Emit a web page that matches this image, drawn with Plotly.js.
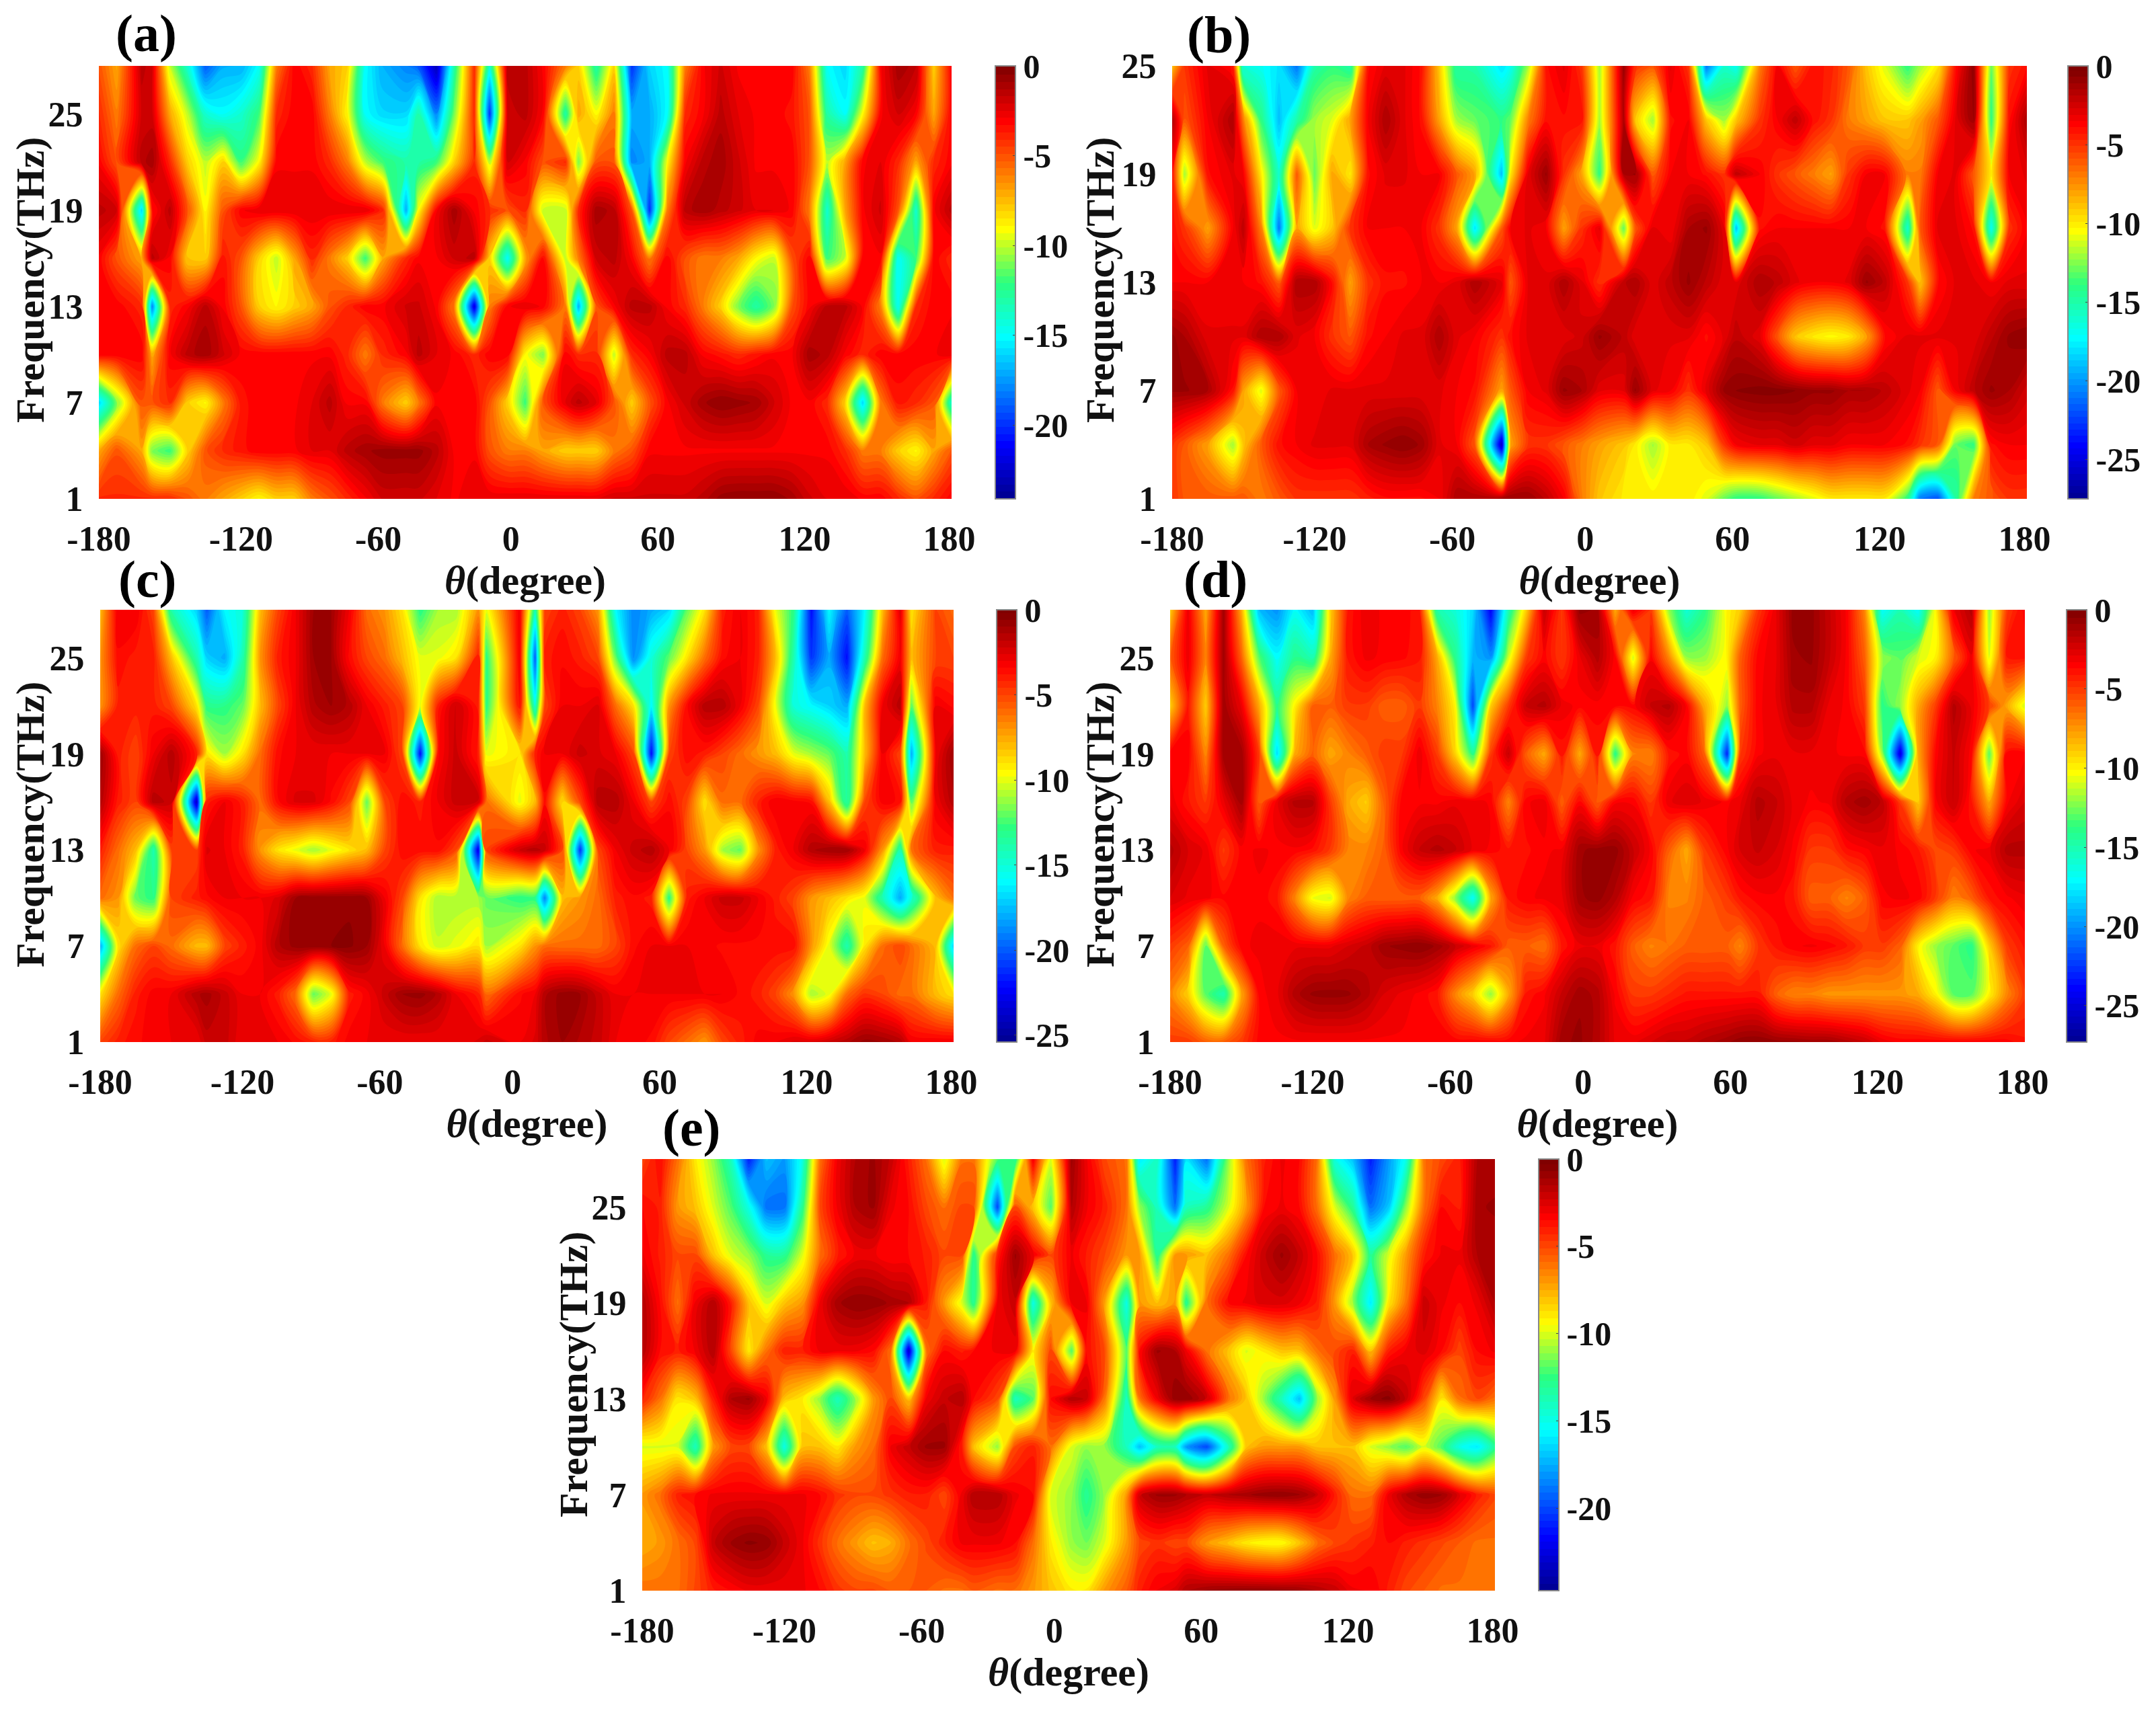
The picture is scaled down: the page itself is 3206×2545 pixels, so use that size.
<!DOCTYPE html>
<html>
<head>
<meta charset="utf-8">
<script src="https://cdn.plot.ly/plotly-3.0.1.min.js"></script>
<style>html,body{margin:0;padding:0;background:#fff}</style>
</head>
<body>
<div id="plot" style="width:3206px;height:2545px"></div>
<script>
var thetaA = [-180,-172.5,-161.9,-157.5,-150,-142.5,-135,-127.5,-120,-112.5,-105,-97.5,-90,-82.5,-75,-67.5,-60,-50.3,-45,-37.5,-30,-21.5,-15,-7.5,0,7.5,17,22.5,30,37.5,45,52.5,60,67.5,75,82.5,90,97.5,105,112.5,120,127.5,135,142.5,150,157.5,165,172.5,180];
var thetaB = [-180,-174.8,-165,-154.4,-150,-142.5,-135,-127.5,-120,-112.5,-105,-97.5,-90,-82.5,-75,-67.5,-60,-52.5,-41.2,-37.5,-30,-22.5,-15,-7.5,0,10.2,15,22.5,30,37.5,45,52.5,57.5,67.5,75,82.5,90,97.5,105,112.5,120,129.8,135,142.5,150,157.5,165,172.5,180];
var thetaC = [-180,-172.5,-165,-157.5,-150,-139.3,-135,-127.5,-120,-112.5,-105,-97.5,-90,-82.5,-75,-67.5,-60,-52.5,-45,-37.5,-30,-20.5,-17.1,-3,3.5,7.5,15,22.5,30,37.5,45,52.5,60,67.5,75,82.5,90,97.5,105,112.5,120,127.5,135,142.5,150,157.5,162.2,172.5,180];
var thetaD = [-180,-172.5,-165,-157.5,-150,-142.5,-135,-127.5,-120,-112.5,-105,-97.5,-90,-82.5,-75,-67.5,-60,-52.5,-45,-37.5,-30,-22.5,-15,-7.5,0,7.5,15,22.5,30,37.5,45,54.6,60,67.5,75,82.5,90,97.5,105,112.5,120,127.5,135,142.5,150,157.5,165,172.5,180];
var thetaE = [-180,-172.5,-165,-157.5,-150,-142.5,-135,-127.5,-120,-112.5,-105,-97.5,-90,-82.5,-75,-67.5,-60,-52.5,-45,-40.1,-30,-22.5,-15,-7.5,1.3,7.5,15,24.5,30,37.5,45,49.7,58.3,67.5,75,82.5,90,97.5,105,112.5,120,127.5,135,142.5,150,157.5,165,172.5,180];
var freqLong = [1,4,7,10,13,16,19,22,25,28];
var freqShort = [1,4,7,10,13,16,19,22,25];
var thetaTicks = [-180,-120,-62,-6,56,118,179];
var thetaLabels = ["-180","-120","-60","0","60","120","180"];
var freqTicks = [1,7,13,19,25];
var freqLabels = ["1","7","13","19","25"];

// panel (a), S-parameter in dB, one list per frequency
var a1 = [-4,-4,-4,-4,-4,-5,-6,-7,-8,-9,-8,-8,-6,-5,-4,-3,-2,-2,-2,-2.5,-3,-2.5,-2.5,-2.5,-2.5,-2.5,-2.5,-2.5,-2.5,-2,-2,-2,-2,-2,-1.5,-0.7,-0.5,-0.5,-0.5,-1,-2,-2.5,-2.5,-3,-3,-4,-5,-4,-3];
var a4 = [-7,-5,-7,-11,-12,-8,-5,-4,-3.5,-3,-3,-3,-2.5,-2.5,-1.5,-1,-0.7,-0.7,-0.7,-1.5,-3,-3,-5,-6,-6,-7,-8,-8,-8,-6,-5,-3,-3,-3,-3,-3,-3,-3,-3,-3,-3,-3,-4,-6,-6,-8,-9,-7,-5];
var a7 = [-16,-11,-5,-5,-4,-8,-9,-6,-3.5,-3,-3,-3,-2.5,-1.5,-3,-3,-6,-8,-6,-3,-3,-3,-5,-8,-12,-5,-2.5,-1.5,-2.5,-5,-8,-5,-3,-2,-1,-0.5,-0.7,-1,-2,-3,-3,-4,-8,-16,-6,-3.5,-4,-5,-14];
var a10 = [-3,-3,-3,-7,-3,-1.5,-1,-2,-3,-3,-3,-3,-3,-3,-4,-6,-4,-3,-1.5,-2.5,-3,-4,-3,-3,-9,-11,-3,-4,-4,-10,-4,-3,-1.5,-1.5,-3,-3.5,-4,-3.5,-3,-3,-1,-1.5,-3,-4,-3,-3,-3,-3,-2.5];
var a13 = [-3,-3,-4,-18,-4,-3,-1.5,-3,-5,-8,-9,-8,-7,-5,-4,-3,-3,-2,-2,-3,-6,-22,-6,-3,-2.5,-3,-6,-17,-5,-3,-1.5,-1.5,-3,-4,-6,-8,-11,-13,-11,-5,-3,-1.5,-1.5,-3,-6,-15,-4,-3,-3];
var a16 = [-3,-5,-7,-1.5,-3,-8,-8,-3.5,-5,-8,-10,-7,-4,-6,-8,-12,-7,-4,-3,-3,-2,-1.5,-8,-15,-7,-3,-10,-6,-2,-1.5,-3,-6,-3,-5,-6,-6,-7,-9,-10,-5,-3,-12,-10,-3,-3,-15,-12,-3,-4];
var a19 = [-1.5,-2,-16,-3.5,-1.5,-5,-9,-5,-3,-2.5,-2.5,-2.5,-2.5,-2.5,-2.5,-2.5,-4,-17,-9,-3,-1,-3,-4,-5,-4,-10,-10,-4,-1,-1.5,-5,-20,-6,-1.5,-1,-1.5,-2,-2.5,-2.5,-3,-6,-14,-7,-3,-2,-5,-14,-3,-1.5];
var a22 = [-3,-5,-1.5,-1,-4,-8,-10,-8,-12,-9,-3,-3,-3,-4,-6,-10,-12,-13,-13,-12,-8,-4,-10,-2,-3,-5,-4,-11,-5,-5,-18,-17,-9,-3,-1.5,-1,-2,-3,-3,-3,-5,-10,-7,-3,-2.5,-4,-7,-4,-3];
var a25 = [-4,-6,-2,-2,-7,-10,-14,-15,-14,-12,-4,-3,-3,-6,-9,-15,-16,-16,-13,-18,-11,-4,-20,-2,-1.5,-3,-13,-7,-9,-6,-17,-17,-15,-4,-3,-1.5,-2.5,-3,-3,-3.5,-5,-13,-15,-9,-3,-2,-3,-7,-3];
var a28 = [-5,-7,-1.5,-2,-10,-14,-19,-17,-17,-15,-6,-3,-4,-7,-8,-15,-17,-18,-19,-23,-13,-4,-14,-1.5,-1.5,-3,-6,-8,-13,-8,-20,-16,-15,-6,-3,-2,-3,-3,-3,-3,-6,-15,-16,-13,-3,-1,-1.5,-8,-3];

// panel (b)
var b1 = [-5,-6,-6,-6,-6,-7,-6,-5,-5,-5,-5,-4.5,-4,-4,-4,-3.5,-1.5,-1.5,-1,-1,-1,-2,-3.5,-7,-9,-10,-10,-10,-10,-10,-11,-13,-14,-14,-13,-12,-11,-10,-10,-10,-10,-14,-21,-22,-15,-7,-6,-5,-5];
var b4 = [-5,-6,-8,-12,-9,-6,-4,-3.5,-3,-3,-3,-1.5,-1,-0.7,-1.2,-3,-3.5,-6,-26,-8,-5,-5,-6,-7,-8,-9,-10,-12,-10,-10,-9,-5,-3.5,-3,-3,-2.5,-3,-3,-3.5,-3.5,-3.5,-4,-5,-6,-13,-14,-4,-3.5,-3.5];
var b7 = [-1,-1,-1.5,-4,-8,-11,-6,-3.5,-3.5,-3,-3,-3,-3,-3,-3,-3,-3.5,-4,-8,-6,-3.5,-3,-1,-1.5,-3,-3,-1,-3,-3.5,-5,-3,-1,-0.7,-0.5,-0.5,-0.7,-1,-1,-1.5,-1.5,-2,-3,-3.5,-6,-3.5,-2,-1,-1.5,-2.5];
var b10 = [-1,-1.5,-3,-3,-3,-1.5,-1.5,-3,-3.5,-5,-6,-4,-3.5,-3,-3,-1.5,-3,-3.5,-5,-4,-3,-3,-3,-2.5,-1,-2,-3,-3,-3,-3,-4,-3,-2,-3,-6,-9,-10,-10.5,-10,-8,-4,-3,-3,-3,-3,-3,-2,-1,-0.7];
var b13 = [-3.5,-3.5,-3.5,-3.5,-3.5,-4,-6,-1.5,-1.5,-4,-8,-5,-4,-4,-3.5,-3.5,-3,-1.5,-3,-6,-3,-3,-1.5,-3,-5,-2,-1.5,-3,-2,-1,-2,-3,-3,-1.5,-2,-3,-3.5,-3.5,-3,-1,-2,-5,-9,-4,-3,-3,-3.5,-3,-3];
var b16 = [-4,-5,-8,-3.5,-2,-7,-21,-8,-11,-9,-5,-3.5,-3.5,-3.5,-3.5,-5,-8,-18,-6,-3.5,-3,-3.5,-8,-5,-3,-13,-6,-3,-3.5,-1.5,-1,-3,-19,-4,-3.5,-3.5,-3.5,-3.5,-3.5,-3.5,-4,-16,-6,-3,-3,-4,-17,-5,-3.5];
var b19 = [-4,-12,-4,-3,-3.5,-10,-16,-6,-13,-8,-10,-4,-3,-3,-3.5,-3.5,-6,-8,-19,-10,-3,-1,-5,-8,-14,-1.5,-1,-6,-3.5,-3.5,-4,-5,-2,-3.5,-5,-6,-7,-8,-5,-3.5,-3.5,-7,-7,-3.5,-3,-6,-10,-3.5,-3];
var b22 = [-1.5,-6,-3.5,-1.5,-7,-14,-19,-15,-12,-11,-8,-3.5,-1.5,-3,-4,-8,-12,-13,-14,-13,-7,-4,-4,-4,-12,-1.5,-9,-12,-4,-3.5,-9,-12,-9,-5,-3.5,-2,-4,-5,-7,-8,-9,-9,-8,-6,-3,-1,-14,-4,-1.5];
var b25 = [-9,-5,-3,-4,-17,-17,-18,-21,-15,-14,-15,-4,-3,-3,-4,-9,-15,-15,-18,-17,-12,-4,-3,-5,-12,-1,-5,-6,-3,-5,-21,-16,-17,-7,-3.5,-6,-4,-4.5,-6,-9,-11,-14,-12,-10,-4,-0.7,-13,-5,-4];

// panel (c)
var c1 = [-5,-4,-3.5,-3.2,-3,-3,-2,-2,-3,-3,-3,-3.5,-4,-4,-3.2,-3,-3,-3,-3,-3,-3,-2.5,-2,-3,-2.5,-1.5,-1,-1.5,-2,-3,-3.2,-3.5,-5,-6,-7,-5,-4,-3.2,-3,-2.5,-2.5,-2,-1.5,-0.8,-1,-1.5,-3,-3,-3];
var c4 = [-9,-6,-4,-3.2,-3,-1.5,-1.2,-2,-3,-3,-4,-6,-12,-10,-4,-3.2,-2,-1,-0.8,-1.5,-3,-4,-6,-3.5,-3,-1.5,-0.8,-1,-2,-3,-3,-3,-3,-3,-3,-3,-3.5,-4,-5,-7,-11,-10,-6,-4.5,-5,-6,-6,-8,-9];
var c7 = [-18,-9,-6,-5,-6,-8,-8,-5,-4,-3.2,-1.5,-0.8,-0.7,-0.6,-0.5,-1,-3,-6,-9,-10.5,-10,-9,-11,-9,-7,-6,-6,-6,-6,-5,-3.5,-3,-3,-3,-3.2,-3.5,-3.5,-3.5,-3.5,-3.5,-7,-10,-14,-9,-6,-5,-6,-8,-17];
var c10 = [-6,-7,-12,-13,-5,-4,-3.5,-3,-3,-3,-2.5,-1,-0.7,-0.7,-0.7,-1,-3,-5,-9,-11,-11,-11,-12,-13,-13,-19,-8,-7,-6,-4,-3.5,-4,-13,-4,-3,-2,-2,-3,-4,-5,-7,-8,-9,-10,-14,-18,-15,-8,-6];
var c13 = [-4,-6,-8,-14,-5,-5,-2.5,-3,-4,-7,-9,-10,-11,-10,-9,-8,-5,-3.5,-3.5,-3.5,-5,-23,-5,-2,-1.5,-2,-5,-21,-5,-3,-2,-1.5,-3,-5,-7,-11,-12,-7,-4,-3,-1.5,-1,-1,-3,-7,-14,-6,-4,-4];
var c16 = [-1.5,-4,-5,-1.5,-2,-24,-4,-3,-4,-6,-3.5,-2.5,-2.5,-3.5,-5,-12,-5,-3.5,-4,-3,-2,-2,-6,-10,-8,-3.5,-9,-5,-1.5,-1.5,-3,-5,-3.5,-5,-9,-6,-6,-4,-3,-3.2,-3.5,-8,-14,-5,-3.2,-3.5,-12,-3,-1.5];
var c19 = [-1,-4,-5,-3,-1.5,-4,-9,-11,-9,-6,-3.5,-3,-3,-3,-3,-3,-3,-5,-22,-3.5,-2,-4,-10,-9,-4,-3,-3,-2,-2.5,-3,-5,-22,-5,-3.5,-4,-5,-6,-7,-8,-10,-11,-12,-14,-8,-3,-5,-18,-3,-1];
var c22 = [-7,-4,-4,-4,-5,-9,-13,-13,-12,-8,-5,-3,-1.5,-1,-1.5,-3,-4,-5,-10,-4,-2,-4,-13,-3.5,-15,-5,-3,-3,-2.5,-6,-9,-16,-7,-3.5,-1.5,-1.5,-3,-5,-10,-15,-16,-17,-18,-8,-3,-1.5,-12,-3,-3.5];
var c25 = [-7,-3.5,-4,-4,-8,-14,-17,-18,-14,-7,-4,-3,-1,-1,-3.5,-5,-6,-8,-10,-10,-9,-4,-13,-3,-20,-4,-3.5,-4,-5,-12,-19,-15,-12,-9,-6,-3.5,-3,-4,-8,-14,-21,-18,-22,-14,-6,-3,-8,-5,-5];
var c28 = [-8,-3,-3,-5,-14,-17,-20,-16,-15,-8,-5,-3,-1,-1,-3,-6,-7,-9,-13,-11,-11,-7,-10,-3,-14,-5,-4,-5,-7,-16,-19,-18,-17,-12,-9,-4,-3,-4,-10,-13,-22,-16,-20,-16,-8,-2.5,-9,-5,-6];

// panel (d)
var d1 = [-5,-5,-6,-6,-5,-3.5,-3.4,-3.4,-3.4,-3.4,-3.4,-3.4,-3.4,-3.4,-3.4,-3.4,-3.4,-3.4,-3.4,-3.4,-3.2,-3,-1,-0.8,-1.5,-3,-3,-2.5,-2,-2,-1.5,-1,-0.6,-0.5,-0.7,-0.8,-1,-1,-1.5,-2,-3,-3.4,-3.4,-3.4,-3.4,-3.4,-3.4,-3.5,-4];
var d4 = [-7,-9,-13,-15,-8,-3.5,-3,-1.5,-0.8,-0.7,-0.8,-1.5,-2.5,-3,-3.4,-4,-7,-9,-12,-8,-4,-3.4,-2,-1,-1.5,-3.4,-5,-5,-4.5,-4,-4,-4,-4,-4,-6,-7,-7,-7.5,-7.5,-7.5,-7.5,-7.5,-8,-10,-13,-13,-10,-7,-5];
var d7 = [-5,-6,-13,-6,-3.4,-3.2,-3,-3,-3,-3,-2.5,-2,-1,-0.7,-0.5,-1,-2,-3,-4,-6,-6,-6.5,-4,-3,-3,-4,-6,-7,-6.5,-6,-6,-6,-7,-5,-4,-3.4,-3.2,-3.5,-4,-5,-5,-6,-10,-12,-13,-14,-9,-5,-4];
var d10 = [-2.5,-3,-3.2,-3.6,-3.4,-3.4,-4,-7,-10.5,-11,-7,-6,-6,-6,-6,-8,-12,-17,-8,-4,-3.4,-3.2,-3,-1,-0.7,-1.5,-3.4,-4,-7,-7,-6,-5,-4,-3.5,-3.4,-4,-6,-6,-7,-6,-3.4,-3.2,-3.4,-5,-7,-6,-4,-3.4,-3];
var d13 = [-1.5,-2.5,-3,-5,-3.5,-3.2,-3.4,-3.4,-3.8,-5,-7,-7,-6,-3.4,-2,-1.5,-2,-3,-3.4,-4,-3.8,-3.4,-3.2,-1,-0.7,-0.7,-2,-3.4,-6,-8,-5,-3.4,-2.5,-2,-2.5,-3.4,-5,-5,-3.8,-3.4,-3,-3.4,-4,-5.5,-5,-3.4,-3,-1.5,-1.5];
var d16 = [-3,-4,-5,-3,-1,-6,-3,-1.5,-1.5,-5,-8,-9,-6,-3.5,-3.4,-3.4,-3,-3,-3.4,-7,-3.4,-3,-6,-3.5,-6,-3.4,-3.4,-5,-3,-2.5,-3,-3.4,-3,-1.5,-2,-3,-3.4,-3.2,-1.5,-1,-1.8,-5,-9,-3.4,-2,-4,-8,-3.4,-2.5];
var d19 = [-3.4,-3.4,-7,-1,-1,-5,-18,-8,-6,-8,-7,-6,-5,-5,-3,-5,-9,-14,-5,-2,-6,-8,-4,-8,-4,-14,-7,-7,-4,-3.5,-6,-23,-5,-3.4,-3,-3,-3,-3.2,-3.4,-3.5,-12,-25,-8,-3.5,-2,-3.5,-13,-3.4,-3.4];
var d22 = [-9,-4,-9,-1,-3,-8,-14,-10,-6,-6,-5,-5,-6,-6,-5,-7,-10,-22,-9,-5,-2,-1.5,-3,-3.5,-3.5,-3.5,-3.5,-2,-1.5,-3.4,-8,-12,-6,-3.4,-3,-1.5,-1.5,-3,-3.4,-5,-14,-12,-8,-5,-1.5,-3,-5,-8,-11];
var d25 = [-6,-3,-7,-1,-6,-13,-17,-14,-15,-8,-4,-3.2,-3.4,-3.6,-4,-8,-14,-19,-20,-11,-5,-3.5,-5,-3,-1.5,-3.5,-11,-3.4,-7,-12,-12,-10,-6,-3.5,-3,-1,-0.8,-2,-3.4,-6,-12,-13,-11,-10,-6,-3,-11,-4,-4];
var d28 = [-9,-3,-8,-1,-8,-19,-20,-17,-19,-9,-4,-3,-3.4,-3.4,-4,-15,-16,-18,-24,-15,-9,-2,-5,-0.7,-1,-8,-3,-5,-12,-16,-14,-10,-9,-5,-3,-0.7,-0.7,-2,-3.4,-7,-17,-15,-17,-10,-3,-1.5,-12,-5,-3.5];

// panel (e)
var e1 = [-6,-6,-6,-5,-4,-3.5,-3,-3,-3,-3,-3.5,-4.5,-5,-5,-5.5,-5.5,-5.5,-6,-6,-5.5,-6,-6,-7,-8,-9,-9,-7,-5.5,-4,-3,-2.5,-1.5,-1,-0.8,-0.7,-0.7,-0.8,-1,-1.5,-2,-3,-3,-4,-5,-5.5,-6,-6,-6,-6];
var e4 = [-7.5,-7,-6,-5,-2,-1,-0.6,-0.8,-2,-3,-4.5,-6,-7,-8,-7.5,-6,-5,-4,-3,-3,-3,-3.5,-6,-9,-11,-11.5,-10,-7,-5,-4.5,-5,-5,-7,-8,-9,-9.5,-9.5,-8,-6,-5,-4.5,-4,-3.5,-4,-4.5,-5,-5.5,-6,-6];
var e7 = [-7,-6,-4,-3.5,-3,-3,-3,-3,-3,-3,-3.5,-4.5,-5,-5,-4.5,-4,-4,-5,-3,-1.5,-1.5,-3,-3.5,-10,-11,-13,-11,-7,-2,-1,-1,-1.5,-2,-1.5,-1.2,-0.8,-0.7,-1,-2,-4,-6,-6,-3,-1.5,-0.8,-1,-2.5,-4,-5];
var e10 = [-10,-10,-10,-14,-7,-5,-5,-8,-15,-8,-8,-9,-7,-6,-3,-2,-1,-1,-4,-8,-11,-5,-4,-6,-10,-11,-11,-14,-17,-14,-14,-18,-20,-14,-8,-7,-7,-7,-8,-8,-8,-10,-11,-12,-10,-12,-15,-16,-13];
var e13 = [-4,-6,-9,-8,-4,-1.5,-1,-3,-8,-9,-11,-14,-11,-7,-5,-8,-3,-2,-1.5,-3.5,-5,-14,-12,-3.5,-1.5,-2,-6,-14,-6,-3,-0.8,-0.7,-2,-6,-8,-11,-14,-17,-11,-7,-2.5,-1,-0.5,-2,-5,-9,-6,-5,-6];
var e16 = [-1.5,-3.5,-4,-3,-1.5,-5,-9,-6,-4,-4,-3,-3,-3,-3.5,-6,-23,-6,-3.5,-4,-3.5,-3,-3,-9,-5,-12,-3.5,-5,-12,-3.5,-1,-1.5,-3,-6,-8,-10,-9,-8,-8,-6,-5,-4,-8,-4,-3,-2.5,-3.5,-5,-3.5,-3];
var e19 = [-1.5,-3.5,-6,-3,-1.5,-4,-8,-10,-8,-7,-3,-1.2,-0.7,-0.8,-1.2,-1.5,-4,-7,-10,-13,-3,-2,-15,-8,-3,-3,-7,-15,-7,-8,-7,-13,-6,-3.5,-3,-2.5,-2.5,-3,-4,-7,-11,-16,-9,-6,-2,-3,-3.5,-3,-1.5];
var e22 = [-3,-4,-5,-5,-8,-10,-11,-13,-13,-10,-6,-4,-3,-3,-3.5,-3.5,-4,-5,-5,-13,-4,-1,-3,-5,-3,-4,-5,-7,-7,-13,-7,-7,-8,-6,-3.5,-2,-1,-2,-3.5,-6,-8,-13,-10,-7,-4,-3,-3,-1.5,-1.5];
var e25 = [-3.5,-4,-7,-8,-10,-12,-15,-19,-19,-13,-5,-3,-1.5,-1,-3,-3.5,-5,-6,-5,-5,-20,-5,-8,-12,-1.5,-3,-4,-6,-11,-14,-19,-14,-13,-10,-7,-3.5,-3,-3.5,-6,-10,-13,-19,-17,-11,-6,-3.5,-4,-1.2,-1];
var e28 = [-5,-3.5,-6,-9,-11,-14,-21,-17,-18,-15,-6,-3,-1.5,-1,-2,-4,-6,-10,-6,-6,-12,-13,-3,-10,-1,-3,-5,-6,-16,-14,-21,-16,-19,-11,-6,-4,-3,-3.5,-6,-15,-17,-21,-18,-15,-6,-5,-4,-1.5,-1.5];

var zA = [a1,a4,a7,a10,a13,a16,a19,a22,a25,a28];
var zB = [b1,b4,b7,b10,b13,b16,b19,b22,b25];
var zC = [c1,c4,c7,c10,c13,c16,c19,c22,c25,c28];
var zD = [d1,d4,d7,d10,d13,d16,d19,d22,d25,d28];
var zE = [e1,e4,e7,e10,e13,e16,e19,e22,e25,e28];

var W = 3206, H = 2545;
var serif = "Liberation Serif";

// MATLAB style jet
var jet = [
  [0, "#00008f"], [0.125, "#0000ff"], [0.375, "#00ffff"],
  [0.5, "#2bff80"], [0.625, "#ffff00"], [0.875, "#ff0000"], [1, "#800000"]
];

var panels = [
  {z: zA, x: thetaA, y: freqLong,  name: "(a)", x0: 147,  x1: 1415, y0: 98,  y1: 742,  cb: 1480, zmin: -24.1, cbTicks: [0,-5,-10,-15,-20], lx: 217,  ly: 50, tx: 45, ty: 417},
  {z: zB, x: thetaB, y: freqShort, name: "(b)", x0: 1743, x1: 3014, y0: 98,  y1: 742,  cb: 3075, zmin: -27.5, cbTicks: [0,-5,-10,-15,-20,-25], lx: 1812, ly: 52, tx: 1636, ty: 417},
  {z: zC, x: thetaC, y: freqLong,  name: "(c)", x0: 149,  x1: 1418, y0: 907, y1: 1550, cb: 1482, zmin: -25.4, cbTicks: [0,-5,-10,-15,-20,-25], lx: 219,  ly: 861, tx: 45, ty: 1227},
  {z: zD, x: thetaD, y: freqLong,  name: "(d)", x0: 1740, x1: 3011, y0: 907, y1: 1550, cb: 3073, zmin: -27.3, cbTicks: [0,-5,-10,-15,-20,-25], lx: 1807, ly: 861, tx: 1636, ty: 1227},
  {z: zE, x: thetaE, y: freqLong,  name: "(e)", x0: 955,  x1: 2223, y0: 1724, y1: 2366, cb: 2288, zmin: -24.7, cbTicks: [0,-5,-10,-15,-20], lx: 1028, ly: 1677, tx: 853, ty: 2045}
];

var data = [];
var layout = {
  width: W,
  height: H,
  margin: {l: 0, r: 0, t: 0, b: 0},
  paper_bgcolor: "#fff",
  plot_bgcolor: "#fff",
  font: {family: serif, size: 52, color: "#111"},
  showlegend: false,
  annotations: []
};

panels.forEach(function (p, i) {
  var n = i === 0 ? "" : String(i + 1);
  data.push({
    type: "contour",
    x: p.x,
    y: p.y,
    z: p.z,
    xaxis: "x" + n,
    yaxis: "y" + n,
    zmin: p.zmin,
    zmax: 0,
    zauto: false,
    colorscale: jet,
    contours: {coloring: "fill", start: p.zmin, end: 0, size: 0.4, showlines: false},
    line: {width: 0, smoothing: 1},
    colorbar: {
      x: p.cb / W,
      xanchor: "left",
      xpad: 0,
      y: 1 - p.y0 / H,
      yanchor: "top",
      ypad: 0,
      len: p.y1 - p.y0,
      lenmode: "pixels",
      thickness: 30,
      thicknessmode: "pixels",
      outlinecolor: "#888",
      outlinewidth: 2,
      tickmode: "array",
      tickvals: p.cbTicks,
      ticktext: p.cbTicks.map(String),
      ticks: "inside",
      ticklen: 5,
      tickcolor: "#444",
      tickfont: {family: serif, size: 50, color: "#111", weight: "bold"}
    }
  });
  layout["xaxis" + n] = {
    domain: [p.x0 / W, p.x1 / W],
    anchor: "y" + n,
    range: [-180, 180],
    tickmode: "array",
    tickvals: thetaTicks,
    ticktext: thetaLabels,
    ticks: "outside",
    ticklen: 14,
    tickcolor: "rgba(0,0,0,0)",
    tickangle: 0,
    showgrid: false,
    zeroline: false,
    showline: false,
    tickfont: {family: serif, size: 52, color: "#111", weight: "bold"},
    title: {text: "<i>θ</i>(degree)", standoff: 0, font: {family: serif, size: 60, color: "#111", weight: "bold"}}
  };
  layout["yaxis" + n] = {
    domain: [1 - p.y1 / H, 1 - p.y0 / H],
    anchor: "x" + n,
    range: [1, p.y[p.y.length - 1]],
    tickmode: "array",
    tickvals: freqTicks,
    ticktext: freqLabels,
    ticks: "outside",
    ticklen: 12,
    tickcolor: "rgba(0,0,0,0)",
    showgrid: false,
    zeroline: false,
    showline: false,
    tickfont: {family: serif, size: 52, color: "#111", weight: "bold"}
  };
  layout.annotations.push({
    text: "<b>" + p.name + "</b>",
    xref: "paper",
    yref: "paper",
    x: p.lx / W,
    y: 1 - p.ly / H,
    xanchor: "center",
    yanchor: "middle",
    showarrow: false,
    font: {family: serif, size: 78, color: "#000"}
  });
  // y title placed by hand, the axis title cannot sit this close to the labels
  layout.annotations.push({
    text: "<b>Frequency(THz)</b>",
    xref: "paper",
    yref: "paper",
    x: p.tx / W,
    y: 1 - p.ty / H,
    xanchor: "center",
    yanchor: "middle",
    textangle: -90,
    showarrow: false,
    font: {family: serif, size: 60, color: "#111"}
  });
});

Plotly.newPlot("plot", data, layout, {displayModeBar: false});
</script>
</body>
</html>
